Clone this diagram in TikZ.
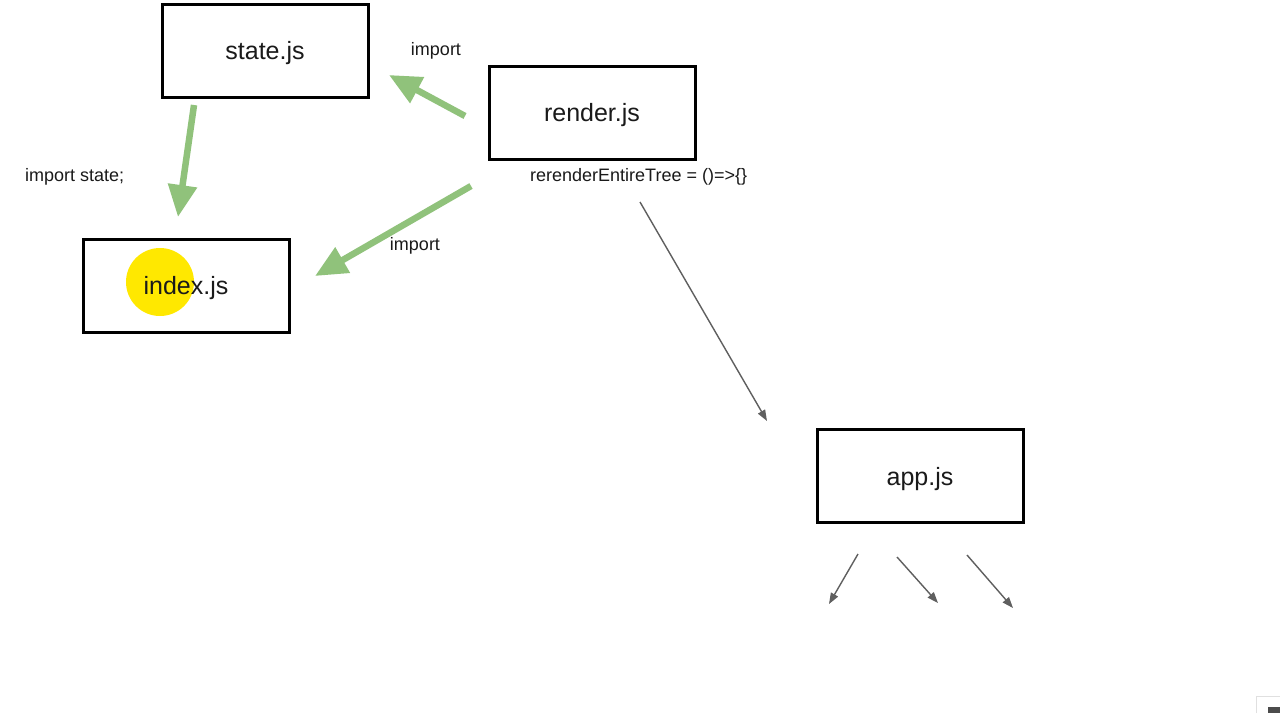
\documentclass[tikz,border=0pt]{standalone}
\usepackage{fontspec}
\setmainfont{Liberation Sans}
\usetikzlibrary{arrows.meta}
\definecolor{importgreen}{HTML}{90C27B}
\definecolor{flowgray}{HTML}{5F5F5F}
\definecolor{spot}{HTML}{FFE800}
\definecolor{ink}{HTML}{1A1A1A}
\tikzset{
  module/.style={draw=black, line width=3pt, minimum width=206pt, minimum height=93pt,
    inner sep=0pt, text=ink, font=\fontsize{25}{29}\selectfont},
  imparrow/.style={draw=importgreen, line width=6.5pt,
    -{Triangle[length=32pt,width=28pt]}},
  flowarrow/.style={draw=flowgray, line width=1.4pt, -{Triangle[length=11pt,width=8pt]}},
  note/.style={font=\fontsize{18}{21}\selectfont, text=ink, inner sep=0pt}
}
\begin{document}
\begin{tikzpicture}[x=1pt,y=-1pt]
  \useasboundingbox[fill=white] (0,0) rectangle (1280,713);

  % highlight spot behind the index.js label
  \fill[spot] (160,282) circle (34);

  % module boxes (outlines)
  \node[module] (state)  at (265,50.5)  {};
  \node[module] (render) at (592,112.5) {};
  \node[module] (index)  at (186,285.5) {};
  \node[module] (app)    at (920,476)   {};

  % module names, set a little below the box centres
  \node[module, draw=none, yshift=-3pt] (statet)  at (state)  {state.js};
  \node[module, draw=none, yshift=-3pt] (rendert) at (render) {render.js};
  \node[module, draw=none, yshift=-3pt] (indext)  at (index)  {index.js};
  \node[module, draw=none, yshift=-3pt] (appt)    at (app)    {app.js};

  % connector end points
  \coordinate (s0) at (194,105);
  \coordinate (s1) at (178,217);
  \coordinate (r0) at (465,116);
  \coordinate (r1) at (389,75);
  \coordinate (q0) at (471,186);
  \coordinate (q1) at (315,276);
  \coordinate (t0) at (640,202);
  \coordinate (t1) at (767,421);
  \coordinate (a0) at (858,554);
  \coordinate (a1) at (829,604);
  \coordinate (b0) at (897,557);
  \coordinate (b1) at (938,603);
  \coordinate (c0) at (967,555);
  \coordinate (c1) at (1013,608);

  % import arrows
  \draw[imparrow] (s0) -- (s1);
  \draw[imparrow] (r0) -- (r1);
  \draw[imparrow] (q0) -- (q1);

  % render flow
  \draw[flowarrow] (t0) -- (t1);
  \draw[flowarrow] (a0) -- (a1);
  \draw[flowarrow] (b0) -- (b1);
  \draw[flowarrow] (c0) -- (c1);

  % labels
  \node[note] (l1) at (436,51) {import};
  \node[note, anchor=west] (l2) at (25,176.5) {import state;};
  \node[note, anchor=west] (l3) at (530,177) {rerenderEntireTree = ()=>\{\}};
  \node[note] (l4) at (415,245.5) {import};

  % corner widget
  \draw[black!12, line width=1pt, fill=white] (1256,713) -- (1256,696) -- (1280,696);
  \fill[black!70] (1268,707) rectangle (1280,713);
\end{tikzpicture}
\end{document}
